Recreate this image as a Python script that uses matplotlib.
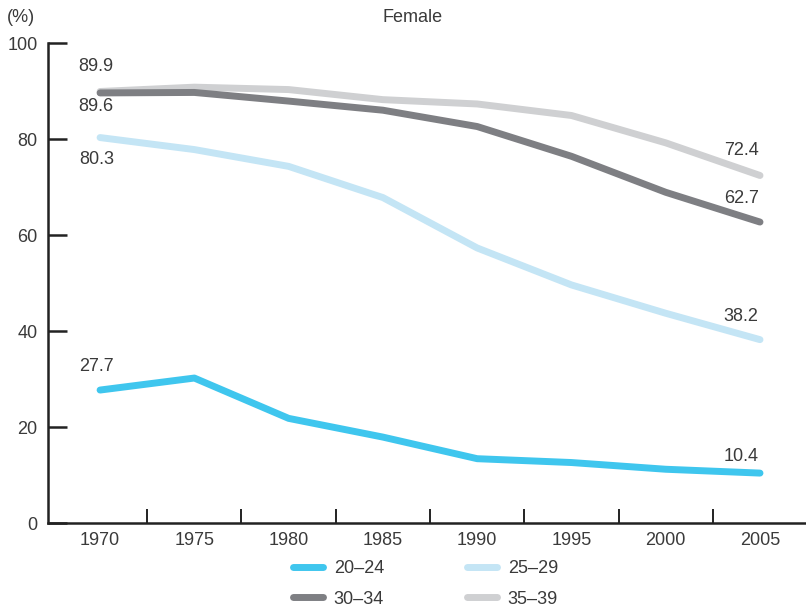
import matplotlib.pyplot as plt

plt.rcParams['font.family'] = ['Liberation Sans', 'DejaVu Sans']

years = ['1970', '1975', '1980', '1985', '1990', '1995', '2000', '2005']
age_20_24 = [27.7, 30.2, 21.8, 17.9, 13.4, 12.6, 11.2, 10.4]
age_25_29 = [80.3, 77.8, 74.3, 67.8, 57.3, 49.6, 43.7, 38.2]
age_30_34 = [89.6, 89.7, 87.9, 86.0, 82.6, 76.4, 68.9, 62.7]
age_35_39 = [89.9, 90.8, 90.3, 88.2, 87.3, 84.9, 79.2, 72.4]

text_color = '#3a3a3a'
c_20 = '#3fc6ee'
c_25 = '#c4e5f5'
c_30 = '#7e7f83'
c_35 = '#cfd0d2'

fig = plt.figure(figsize=(8.06, 6.10), dpi=100)
ax = fig.add_axes([0.0596, 0.1426, 0.9404, 0.7869])

x = list(range(len(years)))
lw = 5
l25, = ax.plot(x, age_25_29, color=c_25, lw=lw, solid_capstyle='round', solid_joinstyle='round', label='25–29')
l35, = ax.plot(x, age_35_39, color=c_35, lw=lw, solid_capstyle='round', solid_joinstyle='round', label='35–39')
l30, = ax.plot(x, age_30_34, color=c_30, lw=lw, solid_capstyle='round', solid_joinstyle='round', label='30–34')
l20, = ax.plot(x, age_20_24, color=c_20, lw=lw, solid_capstyle='round', solid_joinstyle='round', label='20–24')

ax.set_xlim(-0.552, 7.488)
ax.set_ylim(0, 100)

for s in ['top', 'right']:
    ax.spines[s].set_visible(False)
for s in ['left', 'bottom']:
    ax.spines[s].set_linewidth(1.8)
    ax.spines[s].set_color('#222222')

fs = 13
ax.set_yticks([0, 20, 40, 60, 80, 100])
ax.tick_params(axis='y', direction='in', length=13.5, width=1.8, color='#222222',
               labelsize=fs, labelcolor=text_color, pad=7.5)
ax.set_xticks(x)
ax.set_xticklabels(years)
ax.tick_params(axis='x', which='major', length=0, labelsize=fs, labelcolor=text_color, pad=6.5)
ax.set_xticks([i + 0.5 for i in range(len(years) - 1)], minor=True)
ax.tick_params(axis='x', which='minor', direction='in', length=10, width=1.4, color='#222222')

# end labels
def lab(xi, yi, txt, dy):
    ax.annotate(txt, (xi, yi), xytext=(0, dy), textcoords='offset points',
                ha='center', va='center', fontsize=fs, color=text_color)

lab(-0.04, age_35_39[0], '89.9', 18)
lab(-0.04, age_30_34[0], '89.6', -10)
lab(-0.04, age_25_29[0], '80.3', -16)
lab(-0.04, age_20_24[0], '27.7', 17)
lab(6.8, age_35_39[-1], '72.4', 18)
lab(6.8, age_30_34[-1], '62.7', 17)
lab(6.8, age_25_29[-1], '38.2', 17)
lab(6.8, age_20_24[-1], '10.4', 12)

fig.text(0.008, 0.972, '(%)', fontsize=fs, color=text_color, va='center', ha='left')
fig.text(0.512, 0.972, 'Female', fontsize=fs, color=text_color, va='center', ha='center')

fig.legend(handles=[l20, l30, l25, l35], loc='center', bbox_to_anchor=(0.528, 0.043),
           ncol=2, frameon=False, fontsize=fs, labelcolor=text_color,
           handlelength=1.65, handletextpad=0.6, columnspacing=4.6, labelspacing=0.75)

fig.savefig('out.png', dpi=100)
